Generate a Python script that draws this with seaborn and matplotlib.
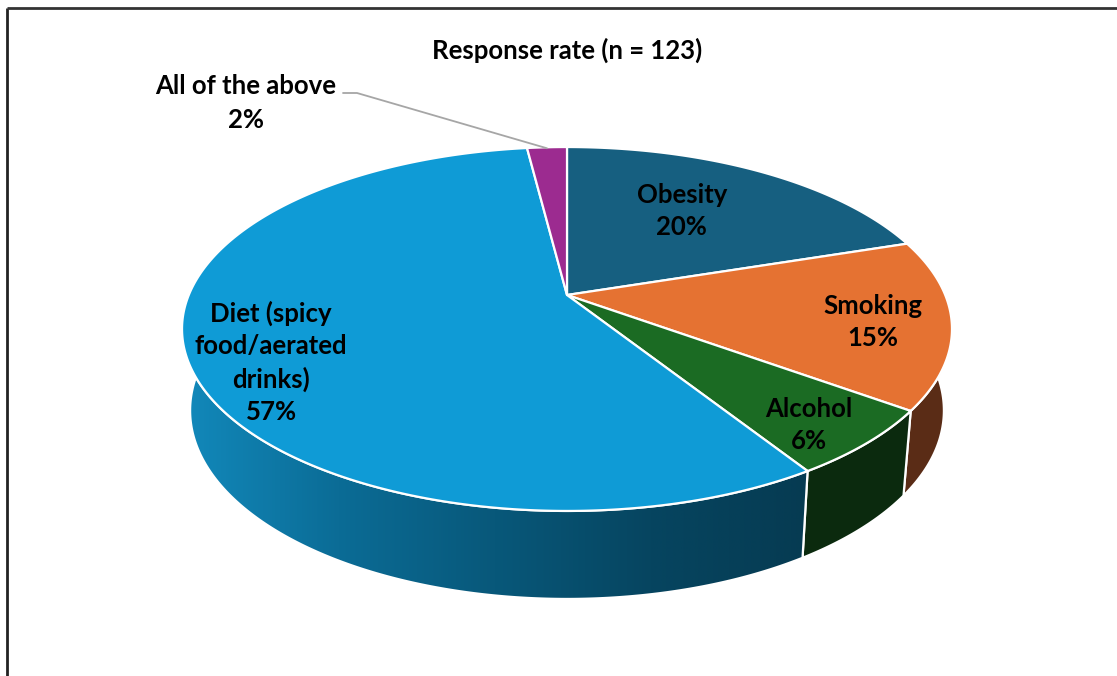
import numpy as np
import matplotlib
matplotlib.use("Agg")
import matplotlib.pyplot as plt
import seaborn as sns
from matplotlib.patches import Polygon
from matplotlib.colors import LinearSegmentedColormap

# ---- data ----
categories = ["Obesity", "Smoking", "Alcohol", "Diet (spicy\nfood/aerated\ndrinks)", "All of the above"]
percent = [20, 15, 6, 57, 2]
title = "Response rate (n = 123)"

# ---- style ----
top_colors = ["#165f80", "#e57232", "#1b6b23", "#0f9bd6", "#9c2b90"]
side_colors = ["#0d3a4f", "#5a2c16", "#0b2a0e", None, "#5e1a57"]
diet_side_grad = ["#1289bb", "#0b6c96", "#08587a", "#064560", "#063b52"]

sns.set_theme(style="white")
plt.rcParams['font.family'] = ['Lato', 'DejaVu Sans']

W, H = 1117, 676
fig = plt.figure(figsize=(W / 100, H / 100), dpi=100)
ax = fig.add_axes([0, 0, 1, 1])

# perspective projection of the pie disc
CX, CY, A, B, K = 567.0, 295.0, 378.2, 120.5, -0.1868
SX = 0.979


def proj(t, r=1.0):
    u = r * np.sin(t)
    v = -r * np.cos(t)
    d = 1 + K * v
    return CX + A * u / d, (CY + B * v) / d


def bottom(t):
    x, y = proj(t)
    v = -np.cos(t)
    return CX + SX * (x - CX), y + 80 + 8 * v


fr = np.array(percent, dtype=float) / sum(percent)
cum = np.concatenate([[0], np.cumsum(fr)])
t_start = 2 * np.pi * cum[:-1]
t_end = 2 * np.pi * cum[1:]

# ---- side walls ----
vis0, vis1 = np.pi / 2, 3 * np.pi / 2
for i in range(len(percent)):
    a0, a1 = max(t_start[i], vis0), min(t_end[i], vis1)
    if a1 <= a0:
        continue
    ts = np.linspace(a0, a1, 200)
    tx, ty = proj(ts)
    bx, by = bottom(ts[::-1])
    pts = np.column_stack([np.concatenate([tx, bx]), np.concatenate([ty, by])])
    if side_colors[i] is None:
        poly = Polygon(pts, closed=True, facecolor="none", edgecolor="white", lw=1.6, zorder=2)
        ax.add_patch(poly)
        cmap = LinearSegmentedColormap.from_list("g", diet_side_grad)
        x0, x1 = pts[:, 0].min(), pts[:, 0].max()
        grad = np.linspace(0, 1, 512)[None, :]
        im = ax.imshow(grad, cmap=cmap, extent=(x0, x1, pts[:, 1].max(), pts[:, 1].min()),
                       aspect="auto", interpolation="bilinear", zorder=1)
        im.set_clip_path(poly)
    else:
        ax.add_patch(Polygon(pts, closed=True, facecolor=side_colors[i], edgecolor="white",
                             lw=1.6, zorder=1))

# ---- top faces ----
for i in range(len(percent)):
    ts = np.linspace(t_start[i], t_end[i], 300)
    tx, ty = proj(ts)
    pts = np.column_stack([np.concatenate([[CX], tx]), np.concatenate([[CY], ty])])
    ax.add_patch(Polygon(pts, closed=True, facecolor=top_colors[i], edgecolor="white",
                         lw=1.6, joinstyle="round", zorder=3))

# ---- labels ----
label_r = [0.56, 0.80, 0.83, 0.79]
label_dy = [-11, 4, 10, 18]
for i in range(4):
    tm = 0.5 * (t_start[i] + t_end[i])
    x, y = proj(tm, label_r[i])
    ax.text(x, y + label_dy[i], f"{categories[i]}\n{percent[i]}%", ha="center", va="center",
            multialignment="center", fontsize=18.5, fontweight="bold", color="black",
            linespacing=1.4, zorder=5)

# outside label with leader line
tm = 0.5 * (t_start[4] + t_end[4])
rx, ry = proj(tm)
ax.text(246, 103, f"{categories[4]}\n{percent[4]}%", ha="center", va="center",
        multialignment="center", fontsize=18.5, fontweight="bold", color="black",
        linespacing=1.45, zorder=5)
ax.plot([343, 357, rx], [93, 93, ry + 1], color="#a6a6a6", lw=1.3, zorder=4)

ax.text(567, 50, title, ha="center", va="center", fontsize=18.5, fontweight="bold", color="black")

# frame
ax.plot([6.5, 6.5], [H, 7.5], color="#222222", lw=2, solid_capstyle="butt")
ax.plot([6.5, W], [7.5, 7.5], color="#333333", lw=2, solid_capstyle="butt")

ax.set_xlim(0, W)
ax.set_ylim(H, 0)
ax.axis("off")
fig.savefig("out.png", dpi=100, facecolor="white")
